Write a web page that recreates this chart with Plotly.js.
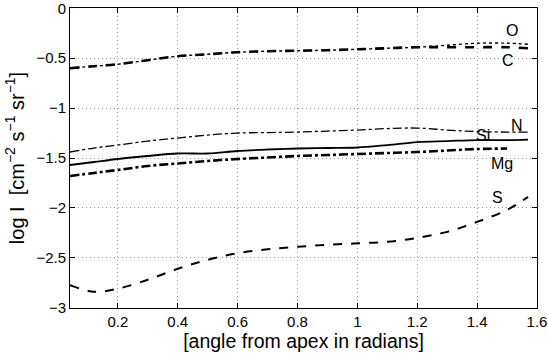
<!DOCTYPE html>
<html>
<head>
<meta charset="utf-8">
<script src="https://cdn.plot.ly/plotly-3.0.1.min.js"></script>
<style>
  html, body { margin: 0; padding: 0; background: #fff; }
  #chart { width: 548px; height: 353px; }
</style>
</head>
<body>
<div id="chart"></div>
<script>
// angle from apex (radians)
const angles = [0.04, 0.12, 0.2, 0.3, 0.4, 0.5, 0.6, 0.7, 0.8, 0.9, 1.0, 1.1, 1.2, 1.3, 1.4, 1.5, 1.57];

// log intensity per element
const logO  = [-0.60, -0.58, -0.56, -0.52, -0.48, -0.46, -0.44, -0.43, -0.425, -0.42, -0.41, -0.40, -0.39, -0.37, -0.35, -0.35, -0.36];
const logC  = [-0.60, -0.58, -0.56, -0.52, -0.48, -0.46, -0.44, -0.43, -0.425, -0.42, -0.41, -0.40, -0.39, -0.39, -0.39, -0.39, -0.40];
const logN  = [-1.44, -1.40, -1.37, -1.33, -1.30, -1.27, -1.25, -1.245, -1.24, -1.23, -1.22, -1.205, -1.20, -1.22, -1.235, -1.24, -1.24];
const logSi = [-1.57, -1.54, -1.51, -1.48, -1.455, -1.455, -1.43, -1.415, -1.405, -1.40, -1.395, -1.37, -1.34, -1.33, -1.32, -1.32, -1.315];
const logMg = [-1.68, -1.65, -1.62, -1.58, -1.555, -1.53, -1.51, -1.495, -1.48, -1.47, -1.46, -1.45, -1.44, -1.425, -1.41, -1.405, null];
const logS  = [-2.775, -2.84, -2.81, -2.72, -2.61, -2.52, -2.455, -2.415, -2.39, -2.37, -2.355, -2.34, -2.30, -2.24, -2.14, -2.02, -1.89];

// label text and where it sits
const labelText = ["O", "C", "N", "Si", "Mg", "S"];
const labelX = [1.515, 1.503, 1.532, 1.418, 1.484, 1.467];
const labelY = [-0.22, -0.525, -1.175, -1.273, -1.554, -1.90];

const font = "Arial, Liberation Sans, sans-serif";

function line(y, dash, width) {
  return {
    x: angles, y: y, mode: "lines", type: "scatter",
    line: { color: "#000", dash: dash, width: width, shape: "spline" },
    hoverinfo: "skip", showlegend: false,
  };
}

const traces = [
  line(logO, "dot", 1.4),
  line(logC, "dash", 2.6),
  line(logN, "dashdot", 1.3),
  line(logSi, "solid", 1.8),
  line(logMg, "dashdot", 2.6),
  line(logS, "dash", 2),
];

const annotations = labelText.map((t, i) => ({
  x: labelX[i], y: labelY[i], text: t, showarrow: false,
  font: { family: font, size: 16, color: "#000" },
}));

const layout = {
  width: 548, height: 353,
  margin: { l: 70, r: 11, t: 8, b: 45 },
  paper_bgcolor: "#fff", plot_bgcolor: "#fff",
  font: { family: font, size: 15, color: "#000" },
  xaxis: {
    range: [0.04, 1.6], tickvals: [0.2, 0.4, 0.6, 0.8, 1, 1.2, 1.4, 1.6],
    ticks: "inside", ticklen: 5, tickcolor: "#000", ticklabeloverflow: "allow",
    showline: true, linecolor: "#000", linewidth: 1, mirror: "ticks",
    showgrid: true, gridcolor: "#999", griddash: "1px,3px", gridwidth: 1,
    zeroline: false,
    title: { text: "[angle from apex in radians]", font: { size: 19.5 }, standoff: 3 },
  },
  yaxis: {
    range: [-3.003, 0.003], tickvals: [-3, -2.5, -2, -1.5, -1, -0.5, 0],
    ticks: "inside", ticklen: 5, tickcolor: "#000", ticklabeloverflow: "allow",
    showline: true, linecolor: "#000", linewidth: 1, mirror: "ticks",
    showgrid: true, gridcolor: "#999", griddash: "1px,3px", gridwidth: 1,
    zeroline: false,
    title: {
      text: "log I  [cm<sup>−2</sup> s<sup>−1</sup> sr<sup>−1</sup>]",
      font: { size: 20 }, standoff: 6,
    },
  },
  annotations: annotations,
};

Plotly.newPlot("chart", traces, layout, { staticPlot: true });
</script>
</body>
</html>
